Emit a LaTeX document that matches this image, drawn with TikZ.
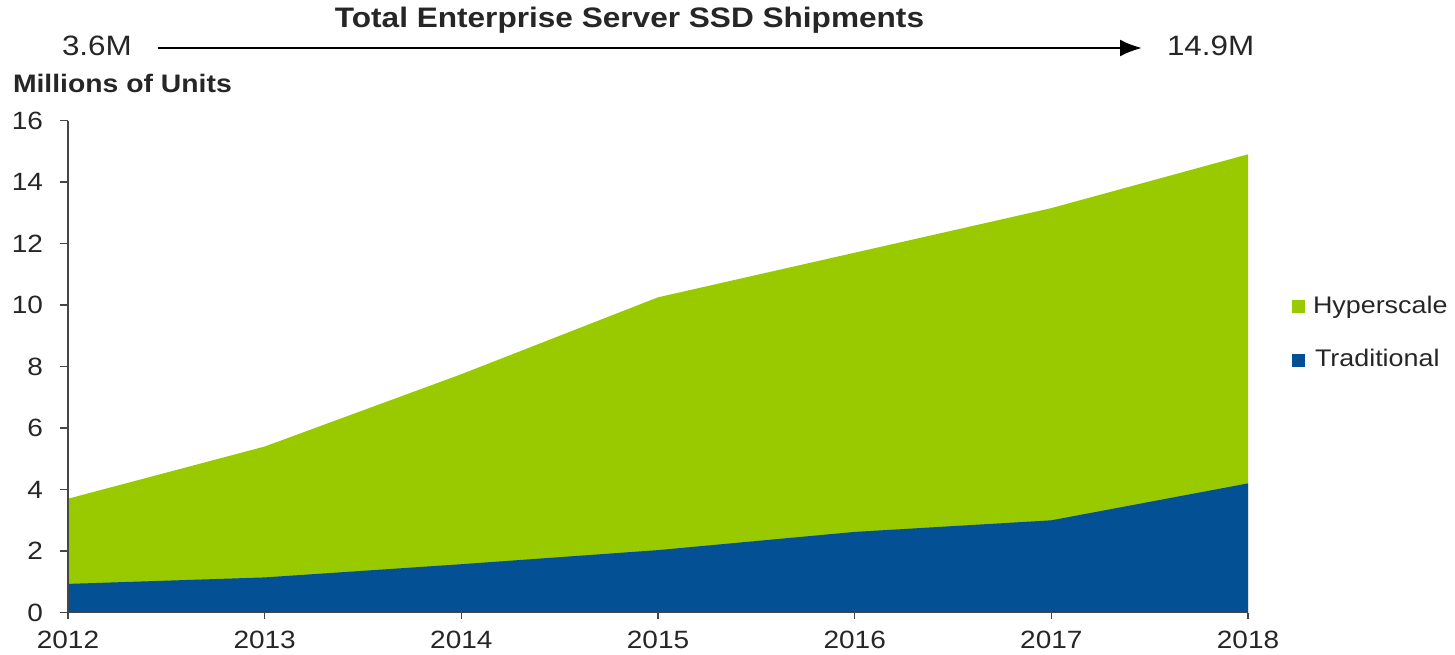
\documentclass[tikz,border=0pt]{standalone}
\usepackage{fontspec}
\setmainfont{Liberation Sans}
\usetikzlibrary{arrows.meta}
\definecolor{hypergreen}{RGB}{153,202,0}
\definecolor{tradblue}{RGB}{4,80,148}
\definecolor{axisgray}{RGB}{70,70,70}
\tikzset{
  txt/.style={inner sep=0pt, outer sep=0pt, xscale=1.12, transform shape, text=black!85},
  ticklbl/.style={txt, font=\fontsize{25}{28}\selectfont},
  boldlbl/.style={txt, font=\bfseries\fontsize{25.3}{28}\selectfont},
  titlelbl/.style={txt, font=\bfseries\fontsize{28.2}{32}\selectfont},
  endlbl/.style={txt, font=\fontsize{28}{32}\selectfont},
  leglbl/.style={txt, font=\fontsize{24}{28}\selectfont},
  legbox/.style={minimum size=13pt, inner sep=0pt, outer sep=0pt},
  axisline/.style={draw=axisgray, line width=1.5pt},
}
\begin{document}
\begin{tikzpicture}[x=1pt, y=-1pt]
\useasboundingbox (0,0) rectangle (1455,654);
% data coordinates
\coordinate (o) at (68,612.5);
\coordinate (e) at (1248,612.5);
\coordinate (t12) at (68,498.7);
\coordinate (t13) at (264.7,446.5);
\coordinate (t14) at (461.3,374.2);
\coordinate (t15) at (658,297.3);
\coordinate (t16) at (854.7,252.7);
\coordinate (t17) at (1051.3,208.1);
\coordinate (t18) at (1248,154.3);
\coordinate (r12) at (68,583.9);
\coordinate (r13) at (264.7,577.4);
\coordinate (r14) at (461.3,564.2);
\coordinate (r15) at (658,550.1);
\coordinate (r16) at (854.7,531.9);
\coordinate (r17) at (1051.3,520.3);
\coordinate (r18) at (1248,483.4);
% areas
\fill[hypergreen] (o) -- (t12) -- (t13) -- (t14) -- (t15) -- (t16) -- (t17) -- (t18) -- (e) -- cycle;
\fill[tradblue] (o) -- (r12) -- (r13) -- (r14) -- (r15) -- (r16) -- (r17) -- (r18) -- (e) -- cycle;
% axes
\coordinate (ytop) at (68,120.5);
\draw[axisline] (ytop) -- (o) -- (e);
\foreach \v in {0,2,...,16} {
  \coordinate (yt\v) at (68,612.5-\v*30.75);
  \draw[axisline] (yt\v) -- ++(-8,0);
  \node[ticklbl, anchor=base east] (yl\v) at (43,612.5-\v*30.75+8.5) {\v};
}
\foreach \i/\yr in {0/2012,1/2013,2/2014,3/2015,4/2016,5/2017,6/2018} {
  \coordinate (xt\yr) at (68+\i*196.67,612.5);
  \draw[axisline] (xt\yr) -- ++(0,6);
  \node[ticklbl, anchor=base] (xl\yr) at (68+\i*196.67,648) {\yr};
}
% titles
\node[titlelbl, anchor=base] (title) at (629.5,27.3) {Total Enterprise Server SSD Shipments};
\node[boldlbl, anchor=base west] (unit) at (13,92) {Millions of Units};
\node[endlbl, anchor=base west] (start) at (62,55) {3.6M};
\node[endlbl, anchor=base west] (finish) at (1167,55) {14.9M};
\draw[line width=2.6pt, -{Latex[length=22pt,width=17pt]}, shorten <=26pt, shorten >=25pt] (start.east |- 0,48) -- (finish.west |- 0,48);
% legend
\node[legbox, fill=hypergreen, anchor=north west] (lgh) at (1292,300) {};
\node[leglbl, anchor=base west] (lgth) at (1313,313.3) {Hyperscale};
\node[legbox, fill=tradblue, anchor=north west] (lgt) at (1292,354) {};
\node[leglbl, anchor=base west] (lgtt) at (1315,366.7) {Traditional};
\end{tikzpicture}
\end{document}
